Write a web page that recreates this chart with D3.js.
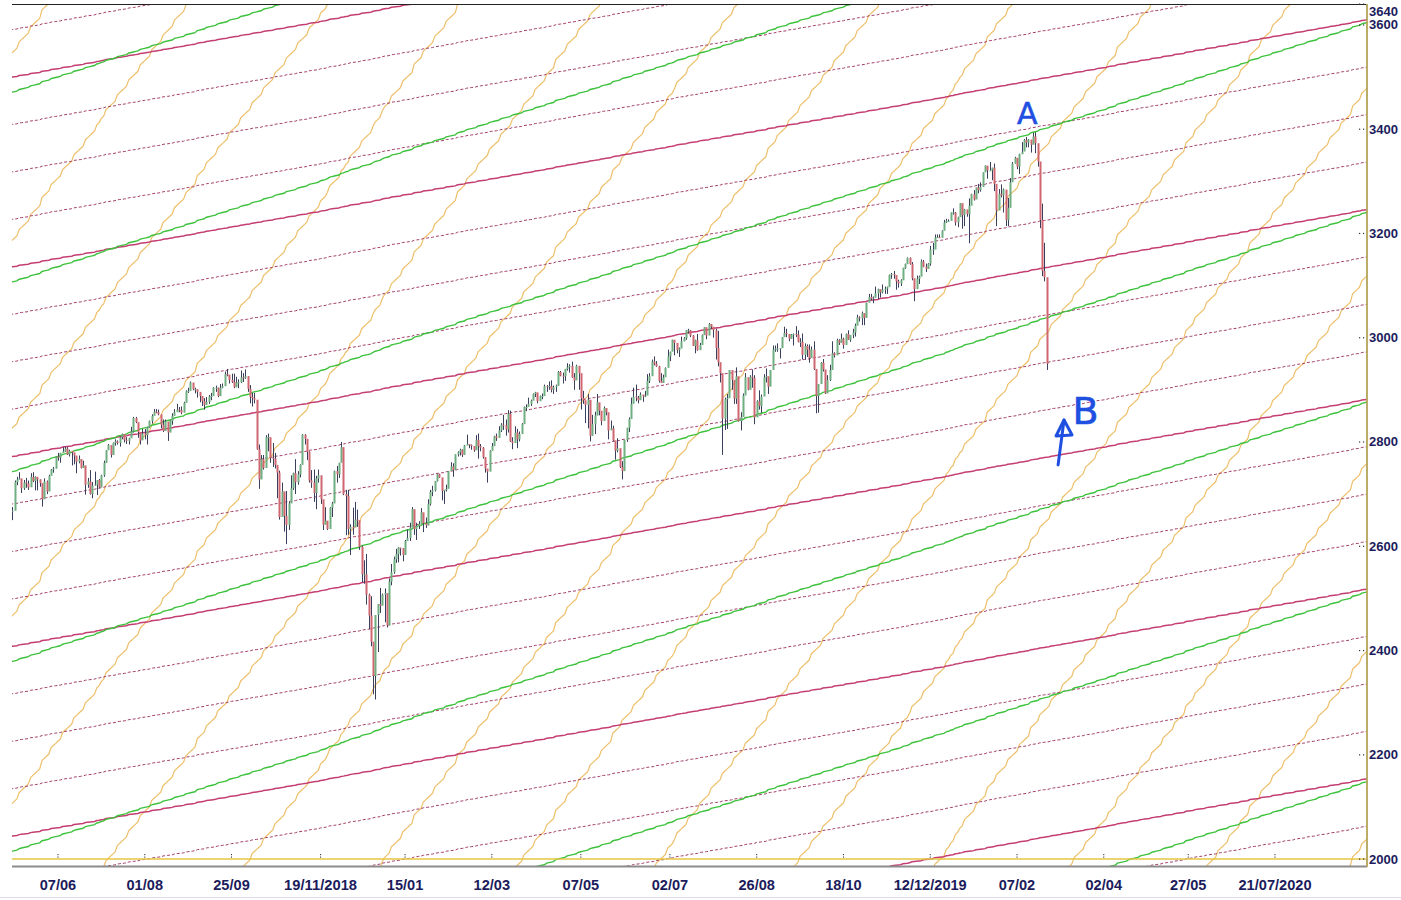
<!DOCTYPE html>
<html><head><meta charset="utf-8">
<script src="https://cdn.jsdelivr.net/npm/d3@7"></script>
<style>body{margin:0;background:#fff}svg{display:block}</style>
</head><body>
<svg id="c" width="1401" height="900"></svg>
<script>
// ---------- DATA ----------
const startDate = "2018-05-09";   // first bar
const holidays = ["2018-05-28","2018-07-04","2018-09-03","2018-11-22","2018-12-05","2018-12-25",
  "2019-01-01","2019-01-21","2019-02-18","2019-04-19","2019-05-27","2019-07-04","2019-09-02",
  "2019-11-28","2019-12-25","2020-01-01","2020-01-20","2020-02-17","2020-04-10","2020-05-25",
  "2020-07-03","2020-09-07"];

const closes = [
 2668,2723,2728,2730,2711,2722,2720,2713,2733,2725,2733,2728,2721,2690,2724,2705,
 2735,2747,2749,2772,2770,2779,2782,2787,2776,2783,2780,2774,2762,2767,2750,2755,2718,2724,2700,2716,2718,
 2727,2713,2736,2760,2784,2794,2775,2798,2801,2798,2809,2815,2804,2802,2807,2820,2846,2838,2819,2803,2816,
 2813,2828,2840,2850,2858,2857,2853,2833,2821,2839,2818,2840,2850,2857,2862,2861,2856,2875,2897,2898,2914,2901,2901,
 2896,2888,2878,2871,2877,2887,2888,2904,2904,2888,2904,2907,2930,2929,2919,2915,2905,2914,2914,
 2924,2923,2926,2902,2886,2884,2881,2786,2728,2767,2750,2809,2809,2769,2768,2756,2741,2656,2705,2658,2641,2682,2711,
 2740,2723,2738,2756,2814,2806,2781,2726,2722,2702,2730,2736,2690,2641,2649,2633,2674,2682,2744,2738,2760,
 2790,2700,2696,2633,2637,2636,2651,2650,2599,2546,2546,2507,2467,2417,2351,2468,2489,2486,2507,
 2510,2448,2532,2550,2575,2585,2597,2596,2583,2610,2616,2636,2671,2633,2639,2643,2665,2644,2640,2681,2704,
 2707,2725,2738,2732,2706,2708,2710,2744,2753,2746,2776,2780,2785,2775,2793,2796,2794,2792,2784,
 2804,2792,2789,2771,2749,2743,2783,2792,2811,2808,2822,2833,2832,2824,2854,2801,2798,2818,2805,2815,2834,
 2867,2867,2873,2879,2892,2895,2878,2888,2888,2907,2905,2907,2900,2905,2908,2934,2927,2926,2940,2943,2946,
 2924,2918,2946,2932,2884,2880,2871,2881,2812,2834,2851,2876,2860,2840,2865,2857,2822,2826,2803,2783,2788,2752,
 2744,2804,2827,2844,2873,2887,2885,2880,2891,2887,2889,2917,2926,2954,2950,2945,2917,2913,2924,2942,
 2964,2973,2996,2990,2976,2979,2993,2999,3014,3014,3004,2984,2995,2976,2986,3005,3020,3004,3026,3021,3014,2980,
 2953,2932,2845,2882,2884,2938,2919,2883,2926,2840,2848,2889,2924,2900,2925,2923,2847,2878,2869,2887,2924,2926,
 2906,2938,2977,2979,2979,2980,3001,3009,3007,2998,3006,3007,3006,2992,2992,2967,2984,2977,2961,2977,
 2940,2888,2911,2952,2939,2893,2919,2938,2970,2966,2995,2990,2998,2986,3007,2996,3005,3010,3023,3039,3037,3047,3038,
 3067,3078,3075,3077,3085,3093,3087,3092,3094,3097,3120,3122,3120,3108,3104,3110,3134,3141,3153,3141,
 3114,3093,3113,3117,3146,3136,3132,3142,3169,3169,3192,3193,3192,3205,3221,3224,3224,3240,3240,3221,3231,
 3258,3235,3246,3237,3253,3275,3265,3288,3283,3289,3317,3330,3321,3321,3326,3295,3244,3276,3273,3284,3226,
 3249,3298,3334,3345,3328,3352,3357,3379,3374,3380,3370,3386,3373,3338,3226,3128,3116,2950];

const highs = [
 2675,2726,2733,2742,2726,2727,2731,2726,2740,2742,2734,2731,2728,2711,2730,2726,
 2737,2748,2752,2772,2779,2779,2790,2791,2790,2785,2782,2775,2764,2774,2764,2764,2743,2731,2746,2723,2743,
 2727,2729,2737,2764,2784,2796,2785,2799,2805,2803,2810,2816,2812,2809,2808,2829,2848,2848,2829,2814,2825,
 2825,2829,2841,2853,2863,2863,2862,2842,2843,2843,2827,2841,2855,2863,2873,2867,2868,2877,2899,2904,2916,2912,2904,
 2900,2893,2887,2884,2886,2890,2894,2905,2908,2904,2911,2912,2935,2940,2927,2931,2931,2925,2920,
 2937,2932,2939,2926,2909,2894,2894,2874,2795,2775,2775,2813,2816,2806,2798,2779,2751,2745,2722,2692,2706,2686,2736,
 2741,2767,2744,2757,2815,2815,2797,2782,2746,2747,2735,2747,2735,2670,2675,2647,2675,2685,2745,2754,2760,
 2800,2786,2708,2708,2642,2674,2685,2670,2637,2601,2573,2585,2509,2504,2410,2468,2489,2520,2509,
 2519,2493,2538,2566,2580,2595,2598,2597,2596,2612,2632,2645,2675,2663,2645,2648,2673,2648,2655,2690,2708,
 2716,2725,2738,2739,2719,2708,2718,2744,2761,2759,2776,2782,2787,2786,2794,2814,2796,2795,2792,
 2813,2816,2796,2790,2767,2744,2784,2798,2812,2816,2830,2836,2852,2843,2861,2860,2809,2830,2825,2820,2836,
 2868,2872,2885,2881,2893,2896,2892,2889,2893,2910,2909,2916,2918,2908,2910,2936,2936,2933,2940,2951,2949,
 2954,2932,2948,2932,2913,2898,2877,2892,2840,2852,2858,2892,2868,2852,2868,2863,2847,2841,2831,2799,2807,2777,
 2763,2804,2827,2847,2885,2904,2910,2888,2895,2890,2898,2930,2932,2958,2964,2955,2946,2932,2929,2943,
 2977,2973,2996,2990,2981,2981,3002,3001,3014,3017,3015,3005,2996,3007,2990,3006,3020,3017,3028,3026,3018,3017,
 3013,2945,2900,2885,2892,2938,2935,2909,2943,2898,2857,2893,2932,2923,2928,2939,2928,2880,2899,2891,2930,2941,
 2914,2938,2985,2985,2989,2980,3001,3021,3017,3003,3007,3008,3022,3014,2999,3008,2989,2987,2987,2983,
 2993,2922,2911,2953,2959,2925,2928,2948,2993,2972,2998,2997,3008,3000,3008,3014,3005,3017,3027,3044,3041,3050,3046,
 3067,3084,3084,3079,3098,3094,3088,3102,3098,3098,3121,3124,3128,3118,3111,3112,3134,3142,3154,3154,
 3145,3099,3119,3119,3150,3149,3142,3143,3176,3182,3198,3198,3198,3206,3226,3228,3227,3240,3248,3241,3232,
 3258,3246,3247,3244,3267,3276,3283,3288,3295,3298,3317,3330,3329,3337,3326,3334,3259,3285,3294,3286,3283,
 3268,3306,3337,3347,3341,3353,3375,3381,3385,3381,3375,3393,3394,3360,3302,3257,3182,3097];

const lows = [
 2650,2698,2717,2728,2702,2708,2712,2708,2725,2723,2707,2707,2714,2676,2693,2700,
 2707,2738,2741,2749,2764,2760,2779,2781,2775,2772,2755,2757,2740,2759,2749,2752,2699,2712,2699,2692,2716,
 2698,2711,2717,2733,2760,2789,2770,2781,2793,2795,2791,2805,2799,2796,2795,2812,2818,2836,2808,2795,2805,
 2805,2795,2827,2835,2852,2855,2851,2826,2819,2826,2802,2821,2833,2851,2858,2857,2853,2862,2884,2894,2899,2899,2893,
 2885,2876,2869,2862,2873,2873,2880,2892,2896,2886,2890,2903,2914,2926,2912,2913,2903,2905,2903,
 2913,2915,2921,2896,2874,2868,2874,2785,2710,2729,2747,2766,2782,2760,2752,2749,2692,2651,2666,2628,2604,2631,2686,
 2708,2700,2718,2732,2774,2795,2765,2722,2712,2685,2671,2722,2681,2631,2644,2631,2649,2656,2683,2722,2731,
 2774,2698,2621,2622,2583,2622,2650,2637,2593,2531,2528,2488,2441,2408,2316,2306,2397,2472,2487,
 2454,2444,2470,2525,2547,2568,2569,2582,2571,2588,2610,2610,2654,2622,2612,2633,2657,2627,2635,2640,2678,
 2696,2705,2724,2731,2688,2681,2705,2724,2748,2733,2764,2772,2774,2771,2785,2795,2788,2785,2781,
 2789,2768,2782,2768,2741,2722,2748,2786,2794,2802,2808,2819,2823,2812,2818,2800,2786,2807,2788,2801,2819,
 2848,2859,2870,2869,2882,2886,2874,2879,2882,2900,2896,2900,2895,2892,2896,2908,2926,2912,2917,2937,2933,
 2923,2900,2932,2900,2862,2873,2836,2826,2801,2812,2815,2851,2851,2832,2851,2851,2805,2823,2801,2766,2780,2750,
 2728,2755,2800,2819,2853,2885,2878,2874,2881,2877,2886,2891,2913,2932,2947,2944,2914,2913,2918,2929,
 2952,2955,2977,2966,2970,2963,2984,2993,2996,3008,3001,2984,2970,2975,2977,2995,3006,2997,3006,3017,3000,2958,
 2945,2914,2775,2823,2825,2891,2900,2873,2873,2839,2822,2853,2920,2899,2911,2904,2834,2856,2862,2856,2905,2914,
 2892,2921,2962,2973,2973,2960,2985,3003,3001,2993,2998,2985,3001,2991,2982,2958,2958,2963,2952,2968,
 2938,2855,2856,2914,2935,2892,2907,2917,2967,2962,2973,2986,2991,2979,2995,2996,2992,2999,3002,3027,3031,3024,3024,
 3051,3069,3072,3066,3077,3074,3077,3085,3084,3084,3104,3113,3113,3092,3096,3099,3117,3132,3143,3140,
 3110,3070,3102,3103,3134,3135,3126,3133,3138,3159,3191,3191,3191,3192,3216,3220,3222,3227,3236,3215,3212,
 3235,3209,3214,3232,3181,3263,3263,3268,3277,3280,3302,3318,3305,3320,3302,3281,3214,3250,3269,3240,3214,
 3214,3280,3313,3334,3323,3314,3352,3362,3365,3365,3355,3378,3354,3328,3210,3118,3108,2938];

const xLabels     = ["07/06","01/08","25/09","19/11/2018","15/01","12/03","07/05","02/07","26/08","18/10","12/12/2019","07/02","02/04","27/05","21/07/2020"];
const xLabelDates = ["2018-06-07","2018-08-01","2018-09-25","2018-11-19","2019-01-15","2019-03-12","2019-05-07","2019-07-02","2019-08-26","2019-10-18","2019-12-12","2020-02-07","2020-04-02","2020-05-27","2020-07-21"];
const yTicks = [2000,2200,2400,2600,2800,3000,3200,3400,3600,3640];

// angle-line families: value at first bar, points per calendar day, spacing between lines
const pinkLines   = {base:3500, perDay:0.55, step:91,  kMin:-22, kMax:1};   // every 4th solid
const greenLines  = {base:3471, perDay:1.0,  step:364, kMin:-6,  kMax:0};
const orangeLines = {base:1747, perDay:4.1,  step:360, kMin:-10, kMax:6};

const annotations = [{text:"A", i:444.5, v:3430, size:30},{text:"B", i:470, v:2860, size:38}];
const arrowPts = [[458,2756],[460.6,2842]];

// ---------- CALENDAR ----------
const fmt = d3.utcFormat("%Y-%m-%d"), parse = d3.utcParse("%Y-%m-%d");
const hol = new Set(holidays);
const isTrading = d => { const w = d.getUTCDay(); return w!==0 && w!==6 && !hol.has(fmt(d)); };
const t0 = parse(startDate);
const before = []; let d = t0;
while (before.length < 8) { d = d3.utcDay.offset(d,-1); if (isTrading(d)) before.unshift(d); }
const after = [t0]; d = t0;
while (after.length < 610) { d = d3.utcDay.offset(d,1); if (isTrading(d)) after.push(d); }
const cal = before.concat(after), off = before.length;
const dateAt = i => cal[i+off];
const daysAt = i => (dateAt(i) - t0) / 864e5;
const indexOf = s => cal.findIndex(c => fmt(c) === s) - off;

// ---------- SCALES ----------
const W=1401, H=900;
const plot = {l:12, r:1367, t:4, b:866};
const x = d3.scaleLinear().domain([0, 592.85]).range([12.33, 1366]);
const y = d3.scaleLinear().domain([2000, 3640]).range([859, 4]);

const svg = d3.select("#c");
svg.append("defs").append("clipPath").attr("id","pc").append("rect")
  .attr("x",plot.l).attr("y",plot.t).attr("width",plot.r-plot.l).attr("height",plot.b-plot.t);
const g = svg.append("g").attr("clip-path","url(#pc)");

const idxRange = d3.range(-3, 597);
const line = d3.line().x(p=>x(p[0])).y(p=>y(p[1]));
function family(fam, styler){
  for (let k=fam.kMin; k<=fam.kMax; k++){
    const pts = idxRange.map(i => [i, fam.base + fam.step*k + fam.perDay*daysAt(i)]);
    styler(g.append("path").attr("d", line(pts)).attr("fill","none"), k);
  }
}
family(orangeLines, p => p.attr("stroke","#ecbc62").attr("stroke-width",1.2).attr("opacity",0.95));
family(pinkLines, (p,k) => {
  if (((k%4)+4)%4===0) p.attr("stroke","#c43e72").attr("stroke-width",1.5);
  else p.attr("stroke","#a23c68").attr("stroke-width",1).attr("stroke-dasharray","3,2");
});
family(greenLines, p => p.attr("stroke","#3ec23e").attr("stroke-width",1.4));

// ---------- BARS ----------
const bars = g.append("g");
closes.forEach((c,i)=>{
  const o = i>0 ? closes[i-1] : c;
  const xi = Math.round(x(i))+0.5;
  bars.append("line").attr("x1",xi).attr("x2",xi).attr("y1",y(highs[i])).attr("y2",y(lows[i]))
    .attr("stroke","#3a3f5c").attr("stroke-width",1);
  const top = y(Math.max(o,c)), bot = y(Math.min(o,c));
  bars.append("rect").attr("x",xi-1).attr("y",top).attr("width",2).attr("height",Math.max(1,bot-top))
    .attr("fill", c>=o ? "#6fae80" : "#cf6670");
});

// ---------- FRAME ----------
svg.append("line").attr("x1",plot.l).attr("x2",plot.r).attr("y1",4.5).attr("y2",4.5).attr("stroke","#222").attr("stroke-width",1.2);
svg.append("line").attr("x1",plot.l).attr("x2",plot.r).attr("y1",859).attr("y2",859).attr("stroke","#e6c640").attr("stroke-width",1.6);
svg.append("line").attr("x1",plot.l).attr("x2",plot.r).attr("y1",866.5).attr("y2",866.5).attr("stroke","#8c8c8c").attr("stroke-width",2);
svg.append("line").attr("x1",plot.r).attr("x2",plot.r).attr("y1",4).attr("y2",867).attr("stroke","#b4a458").attr("stroke-width",1.8);
svg.append("line").attr("x1",0).attr("x2",W).attr("y1",897.5).attr("y2",897.5).attr("stroke","#dcdce8").attr("stroke-width",1);

// ---------- AXES ----------
const font = "'Liberation Sans',Arial,sans-serif";
yTicks.forEach(v=>{
  const yy = y(v);
  [1359,1363].forEach(xx=> svg.append("rect").attr("x",xx).attr("y",yy-0.5).attr("width",1.2).attr("height",1.2).attr("fill","#333"));
  svg.append("text").attr("x",1369).attr("y",Math.max(yy,11)).attr("dy","0.35em")
    .attr("font-family",font).attr("font-weight","bold").attr("font-size",13).attr("fill","#1c1c5c")
    .attr("textLength",29).attr("lengthAdjust","spacingAndGlyphs").text(v);
});
xLabels.forEach((s,j)=>{
  const xi = x(indexOf(xLabelDates[j]));
  svg.append("rect").attr("x",xi-0.5).attr("y",854).attr("width",1).attr("height",1.2).attr("fill","#333");
  svg.append("rect").attr("x",xi-0.5).attr("y",856.5).attr("width",1).attr("height",1.2).attr("fill","#333");
  svg.append("text").attr("x",xi).attr("y",885).attr("dy","0.35em").attr("text-anchor","middle")
    .attr("font-family",font).attr("font-weight","bold").attr("font-size",14).attr("fill","#1c1c5c")
    .attr("textLength",s.length*7.3).attr("lengthAdjust","spacingAndGlyphs").text(s);
});

// ---------- ANNOTATIONS ----------
annotations.forEach(a=>{
  svg.append("text").attr("x",x(a.i)).attr("y",y(a.v)).attr("dy","0.35em").attr("text-anchor","middle")
    .attr("font-family","'DejaVu Sans',sans-serif").attr("font-size",a.size).attr("fill","#1f4fe0")
    .attr("stroke","#1f4fe0").attr("stroke-width",0.6).text(a.text);
});
const [p0,p1] = arrowPts.map(p=>[x(p[0]),y(p[1])]);
svg.append("path").attr("d",`M${p0[0]},${p0[1]}L${p1[0]},${p1[1]}`).attr("stroke","#1f4fe0").attr("stroke-width",3).attr("fill","none").attr("stroke-linecap","round");
svg.append("path").attr("d",`M${p1[0]-8},${p1[1]+16}L${p1[0]},${p1[1]}L${p1[0]+8},${p1[1]+15}Z`)
  .attr("stroke","#1f4fe0").attr("stroke-width",3).attr("fill","none").attr("stroke-linejoin","round");
</script>
</body></html>
